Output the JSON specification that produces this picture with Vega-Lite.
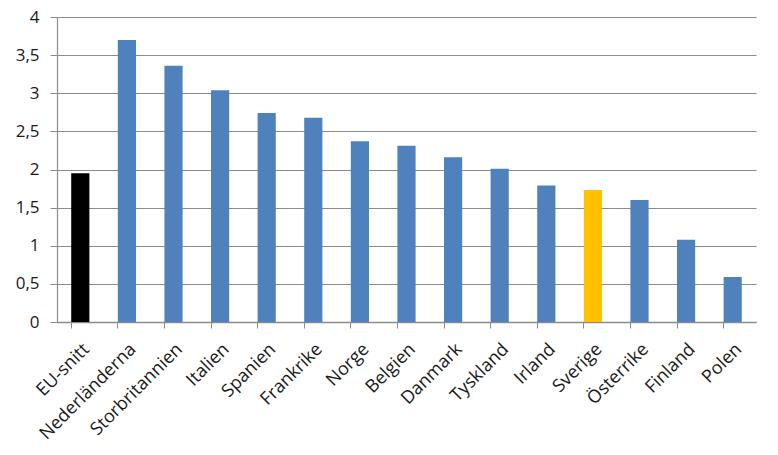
{
  "$schema": "https://vega.github.io/schema/vega-lite/v6.json",
  "width": 699,
  "height": 305,
  "autosize": {"type": "none"},
  "padding": {"left": 57, "top": 17, "right": 22, "bottom": 133},
  "background": "white",
  "data": {
    "values": [
      {"land": "EU-snitt", "varde": 1.95, "grupp": "EU"},
      {"land": "Nederländerna", "varde": 3.70, "grupp": "Land"},
      {"land": "Storbritannien", "varde": 3.36, "grupp": "Land"},
      {"land": "Italien", "varde": 3.04, "grupp": "Land"},
      {"land": "Spanien", "varde": 2.74, "grupp": "Land"},
      {"land": "Frankrike", "varde": 2.68, "grupp": "Land"},
      {"land": "Norge", "varde": 2.37, "grupp": "Land"},
      {"land": "Belgien", "varde": 2.31, "grupp": "Land"},
      {"land": "Danmark", "varde": 2.16, "grupp": "Land"},
      {"land": "Tyskland", "varde": 2.01, "grupp": "Land"},
      {"land": "Irland", "varde": 1.79, "grupp": "Land"},
      {"land": "Sverige", "varde": 1.73, "grupp": "Sverige"},
      {"land": "Österrike", "varde": 1.60, "grupp": "Land"},
      {"land": "Finland", "varde": 1.08, "grupp": "Land"},
      {"land": "Polen", "varde": 0.59, "grupp": "Land"}
    ]
  },
  "mark": {"type": "bar"},
  "encoding": {
    "x": {
      "field": "land",
      "type": "nominal",
      "sort": null,
      "scale": {"paddingInner": 0.61, "paddingOuter": 0.305},
      "axis": {
        "title": null,
        "labelAngle": -45,
        "labelAlign": "right",
        "labelBaseline": "top",
        "labelFont": "Open Sans",
        "labelFontSize": 18,
        "labelColor": "#1a1a1a",
        "labelPadding": 12,
        "bandPosition": 0,
        "ticks": true,
        "tickSize": 6,
        "tickColor": "#8c8c8c",
        "domainColor": "#8c8c8c",
        "domainWidth": 1.5,
        "grid": false
      }
    },
    "y": {
      "field": "varde",
      "type": "quantitative",
      "scale": {"domain": [0, 4], "nice": false},
      "axis": {
        "title": null,
        "values": [0, 0.5, 1, 1.5, 2, 2.5, 3, 3.5, 4],
        "labelExpr": "replace(format(datum.value, ''), '.', ',')",
        "labelFont": "Open Sans",
        "labelFontSize": 17,
        "labelColor": "#1a1a1a",
        "labelPadding": 11,
        "domain": true,
        "domainColor": "#8c8c8c",
        "domainWidth": 1.2,
        "ticks": true,
        "tickSize": 7,
        "tickColor": "#8c8c8c",
        "gridColor": "#8c8c8c",
        "gridWidth": 1.2,
        "grid": true
      }
    },
    "color": {
      "field": "grupp",
      "type": "nominal",
      "scale": {"domain": ["EU", "Land", "Sverige"], "range": ["#000000", "#4F81BD", "#FFC000"]},
      "legend": null
    }
  },
  "config": {"view": {"stroke": null}}
}
